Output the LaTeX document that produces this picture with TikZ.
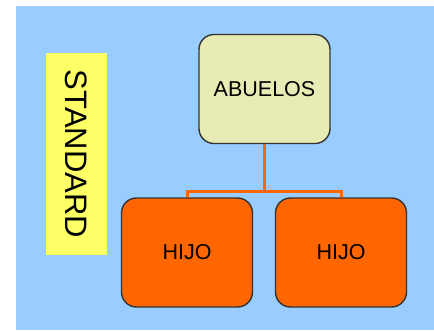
\documentclass[tikz,border=0pt]{standalone}
\usepackage{fontspec}
\setmainfont{Liberation Sans}
\definecolor{fondo}{HTML}{99CCFF}
\definecolor{amarillo}{HTML}{FFFF66}
\definecolor{crema}{HTML}{E8EBB3}
\definecolor{naranja}{HTML}{FF6600}
\begin{document}
\begin{tikzpicture}[x=1pt, y=-1pt,
  caja/.style={draw=black!80, line width=1.4pt, rounded corners=15pt, inner sep=0pt,
    minimum width=131pt, minimum height=109pt, font=\fontsize{21.5}{24}\selectfont},
  rama/.style={draw=naranja, line width=3pt}]

\useasboundingbox (0,0) rectangle (434,330);
\fill [white] (0,0) rectangle (434,330);
\fill [fondo] (16,6) rectangle (434,330);

\node [fill=amarillo, minimum width=61pt, minimum height=202pt, inner sep=0pt] (marco) at (76.5,154) {};
\node [rotate=-90, font=\fontsize{31}{34}\selectfont] (standard) at (marco.center) {STANDARD};

\node [caja, fill=crema] (abuelos) at (264.5,89) {ABUELOS};
\node [caja, fill=naranja] (hijoa) at (187,252.5) {HIJO};
\node [caja, fill=naranja] (hijob) at (341,252.5) {HIJO};

\coordinate (union) at (264.5,191);
\draw [rama] (abuelos.south) -- (union);
\draw [rama] (union) -| (hijoa.north);
\draw [rama] (union) -| (hijob.north);

\end{tikzpicture}
\end{document}
